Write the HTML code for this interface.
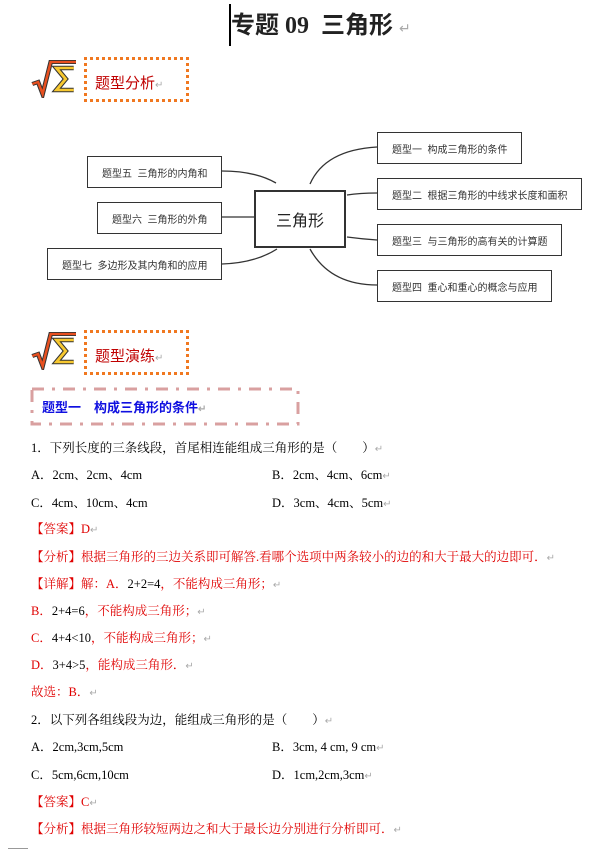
<!DOCTYPE html>
<html><head><meta charset="utf-8"><style>
body{margin:0;width:603px;height:852px;background:#fff;position:relative;overflow:hidden;font-family:"Liberation Serif","Noto Serif CJK SC","Noto Sans CJK SC",serif;}
.t{position:absolute;white-space:nowrap;font-size:12.5px;line-height:16px;color:#000;}
.r{color:#e00000;}
.g{color:#aaa;font-size:10px;}
.box{position:absolute;border:1.3px solid #333;box-sizing:border-box;font-family:"Liberation Sans","Noto Sans CJK SC",sans-serif;font-size:10px;color:#333;display:flex;align-items:center;white-space:nowrap;padding-left:14px;}
.dot{position:absolute;border:3px dotted #f07820;box-sizing:border-box;}
.hd{position:absolute;font-family:"Liberation Sans","Noto Sans CJK SC",sans-serif;font-size:15px;color:#c00000;}
</style></head><body>
<div style="position:absolute;left:229px;top:4px;width:1.5px;height:42px;background:#000"></div>
<div class="t" style="left:231px;top:12px;font-size:24px;line-height:28px;font-weight:bold;font-family:'Liberation Serif','Noto Sans CJK SC',sans-serif;color:#222">专题 09&nbsp; 三角形 <span style="color:#aaa;font-size:14px;font-weight:normal">↵</span></div>

<svg style="position:absolute;left:30px;top:58px" width="46" height="40" viewBox="0 0 40 40" preserveAspectRatio="none">
<path d="M2 26 L7 24 L11 36 L18 4 L40 4" fill="none" stroke="#333" stroke-width="4"/>
<path d="M2 26 L7 24 L11 36 L18 4 L40 4" fill="none" stroke="#e85020" stroke-width="2.2"/>
<path d="M38 10 L23 10 L31 21 L23 32 L38 32" fill="none" stroke="#333" stroke-width="4.5"/>
<path d="M38 10 L23 10 L31 21 L23 32 L38 32" fill="none" stroke="#f7c830" stroke-width="2.6"/>
</svg>
<div class="dot" style="left:84px;top:57px;width:105px;height:45px"></div>
<div class="hd" style="left:95px;top:72px">题型分析<span class="g">↵</span></div>

<svg style="position:absolute;left:0;top:0" width="603" height="320">
<g fill="none" stroke="#333" stroke-width="1.3">
<path d="M222 171 Q255 171 276 183"/>
<path d="M222 217 L254 217"/>
<path d="M222 264 Q255 263 277 249"/>
<path d="M310 184 Q325 150 377 147"/>
<path d="M347 195 Q360 193 377 193"/>
<path d="M347 237 Q362 239 377 240"/>
<path d="M310 249 Q330 285 377 285"/>
</g></svg>
<div class="box" style="left:254px;top:190px;width:92px;height:58px;border-width:2px;justify-content:center;padding-left:0;font-size:16px;color:#222">三角形</div>
<div class="box" style="left:87px;top:156px;width:135px;height:32px">题型五&nbsp; 三角形的内角和</div>
<div class="box" style="left:97px;top:202px;width:125px;height:32px">题型六&nbsp; 三角形的外角</div>
<div class="box" style="left:47px;top:248px;width:175px;height:32px">题型七&nbsp; 多边形及其内角和的应用</div>
<div class="box" style="left:377px;top:132px;width:145px;height:32px">题型一&nbsp; 构成三角形的条件</div>
<div class="box" style="left:377px;top:178px;width:205px;height:32px">题型二&nbsp; 根据三角形的中线求长度和面积</div>
<div class="box" style="left:377px;top:224px;width:185px;height:32px">题型三&nbsp; 与三角形的高有关的计算题</div>
<div class="box" style="left:377px;top:270px;width:175px;height:32px">题型四&nbsp; 重心和重心的概念与应用</div>

<svg style="position:absolute;left:30px;top:330px" width="46" height="40" viewBox="0 0 40 40" preserveAspectRatio="none">
<path d="M2 26 L7 24 L11 36 L18 4 L40 4" fill="none" stroke="#333" stroke-width="4"/>
<path d="M2 26 L7 24 L11 36 L18 4 L40 4" fill="none" stroke="#e85020" stroke-width="2.2"/>
<path d="M38 10 L23 10 L31 21 L23 32 L38 32" fill="none" stroke="#333" stroke-width="4.5"/>
<path d="M38 10 L23 10 L31 21 L23 32 L38 32" fill="none" stroke="#f7c830" stroke-width="2.6"/>
</svg>
<div class="dot" style="left:84px;top:330px;width:105px;height:45px"></div>
<div class="hd" style="left:95px;top:345px">题型演练<span class="g">↵</span></div>

<svg style="position:absolute;left:0;top:0" width="603" height="852">
<rect x="32" y="389" width="266" height="35" fill="none" stroke="#d9a0a0" stroke-width="3" stroke-dasharray="12,8,3,8"/>
</svg>
<div class="t" style="left:42px;top:400px;font-size:13px;font-weight:bold;color:#1010e0;font-family:'Liberation Sans','Noto Sans CJK SC',sans-serif">题型一　构成三角形的条件<span class="g">↵</span></div>

<div class="t" style="left:31px;top:440px">1．下列长度的三条线段，首尾相连能组成三角形的是（　　）<span class="g">↵</span></div>
<div class="t" style="left:31px;top:467px">A．2cm、2cm、4cm</div>
<div class="t" style="left:272px;top:467px">B．2cm、4cm、6cm<span class="g">↵</span></div>
<div class="t" style="left:31px;top:495px">C．4cm、10cm、4cm</div>
<div class="t" style="left:272px;top:495px">D．3cm、4cm、5cm<span class="g">↵</span></div>
<div class="t r" style="left:31px;top:521px">【答案】D<span class="g">↵</span></div>
<div class="t r" style="left:31px;top:549px">【分析】根据三角形的三边关系即可解答.看哪个选项中两条较小的边的和大于最大的边即可．<span class="g">↵</span></div>
<div class="t r" style="left:31px;top:576px">【详解】解：A．<span style="color:#000">2+2=4</span>，不能构成三角形；<span class="g">↵</span></div>
<div class="t r" style="left:31px;top:603px">B．<span style="color:#000">2+4=6</span>，不能构成三角形；<span class="g">↵</span></div>
<div class="t r" style="left:31px;top:630px">C．<span style="color:#000">4+4&lt;10</span>，不能构成三角形；<span class="g">↵</span></div>
<div class="t r" style="left:31px;top:657px">D．<span style="color:#000">3+4&gt;5</span>，能构成三角形．<span class="g">↵</span></div>
<div class="t r" style="left:31px;top:684px">故选：B．<span class="g">↵</span></div>
<div class="t" style="left:31px;top:712px">2．以下列各组线段为边，能组成三角形的是（　　）<span class="g">↵</span></div>
<div class="t" style="left:31px;top:739px">A．2cm,3cm,5cm</div>
<div class="t" style="left:272px;top:739px">B．3cm, 4 cm, 9 cm<span class="g">↵</span></div>
<div class="t" style="left:31px;top:767px">C．5cm,6cm,10cm</div>
<div class="t" style="left:272px;top:767px">D．1cm,2cm,3cm<span class="g">↵</span></div>
<div class="t r" style="left:31px;top:794px">【答案】C<span class="g">↵</span></div>
<div class="t r" style="left:31px;top:821px">【分析】根据三角形较短两边之和大于最长边分别进行分析即可．<span class="g">↵</span></div>
<div style="position:absolute;left:8px;top:848px;width:20px;height:1px;background:#999"></div>
</body></html>
